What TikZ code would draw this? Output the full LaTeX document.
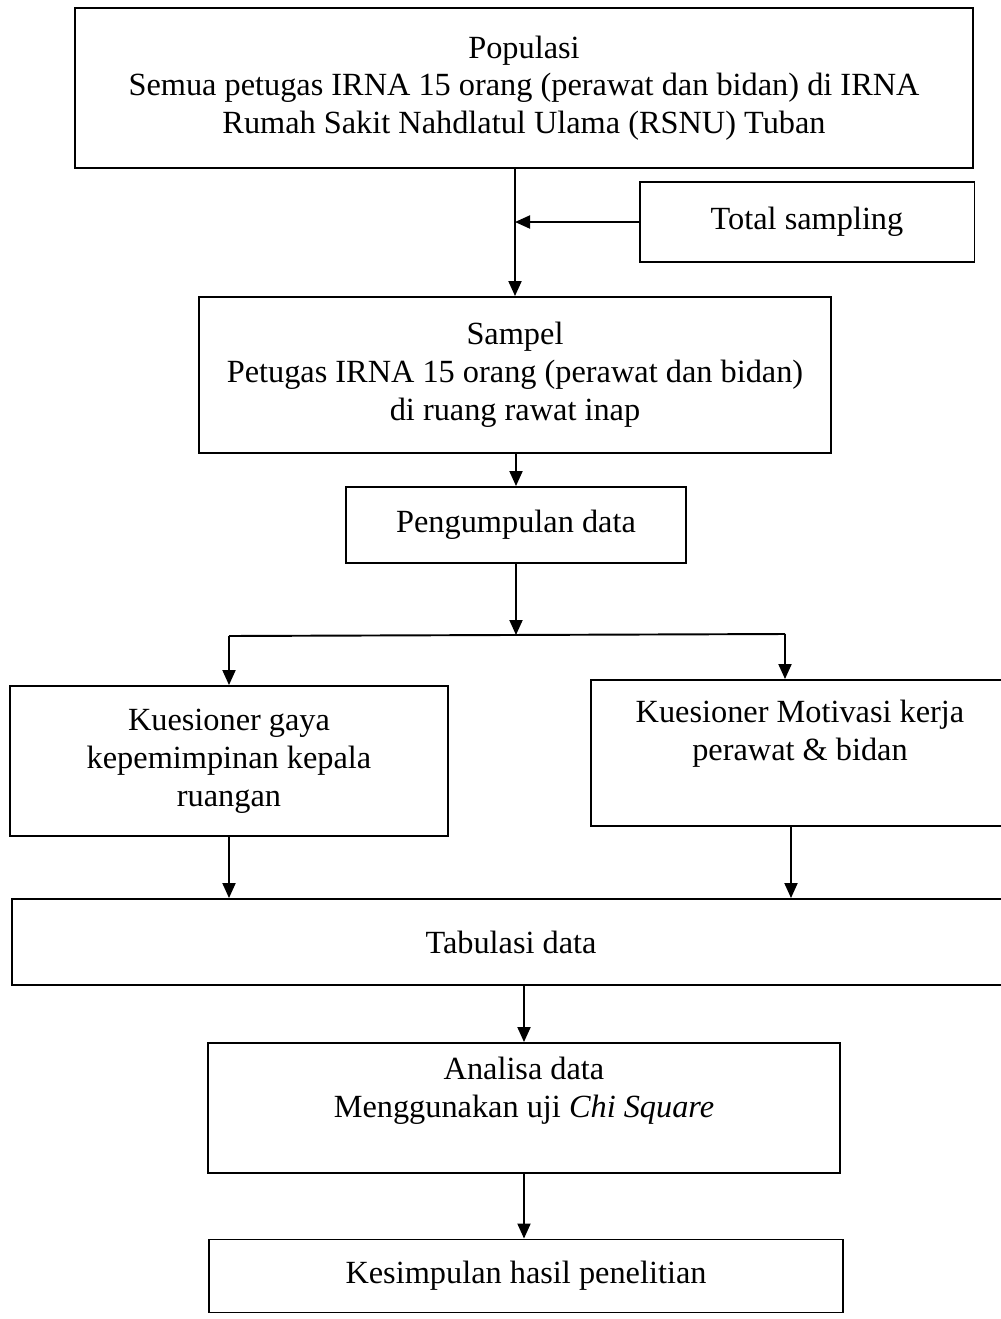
\documentclass[tikz,border=0pt]{standalone}
\usepackage{fontspec}
\setmainfont{Liberation Serif}
\usetikzlibrary{arrows.meta}
\begin{document}
\begin{tikzpicture}
[x=0.02cm, y=-0.02cm,
box/.style={rectangle,draw,line width=1.1pt,align=center,inner sep=0pt,
  font=\fontsize{18.4}{21.5}\selectfont},
arr/.style={line width=1.1pt,-{Triangle[length=0.3cm,width=0.26cm]}},
line/.style={line width=1.1pt}
]
\useasboundingbox (0,0) rectangle (1001,1319);
\clip (0,0) rectangle (1001,1319);
\node[box,minimum width=17.96cm,minimum height=3.2cm] (pop) at (524,88)
  {Populasi\\Semua petugas IRNA 15 orang (perawat dan bidan) di IRNA\\Rumah Sakit Nahdlatul Ulama (RSNU) Tuban};
\node[box,minimum width=6.7cm,minimum height=1.6cm] (total) at (807,222) {Total sampling};
\node[box,minimum width=12.64cm,minimum height=3.12cm] (sampel) at (515,375)
  {Sampel\\Petugas IRNA 15 orang (perawat dan bidan)\\di ruang rawat inap};
\node[box,minimum width=6.8cm,minimum height=1.52cm] (kumpul) at (516,525) {Pengumpulan data};
\node[box,minimum width=8.76cm,minimum height=3cm] (gaya) at (229,761)
  {Kuesioner gaya\\kepemimpinan kepala\\ruangan};
\node[box,minimum width=8.38cm,minimum height=2.92cm] (motiv) at (800,753)
  {Kuesioner Motivasi kerja\\perawat \& bidan\\[4pt]\mbox{}};
\node[box,minimum width=19.96cm,minimum height=1.72cm] (tabul) at (511,942) {Tabulasi data};
\node[box,minimum width=12.64cm,minimum height=2.6cm] (analisa) at (524,1108)
  {Analisa data\\Menggunakan uji \textit{Chi Square}\\[2pt]};
\node[box,minimum width=12.68cm,minimum height=1.46cm] (simpul) at (526,1276) {Kesimpulan hasil penelitian};
% connectors
\coordinate (split) at (516,635);
\coordinate (bl) at (229,636);
\coordinate (br) at (785,634);
\draw[arr] (pop.south -| sampel) -- (sampel.north);
\draw[arr] (total.west) -- (total.west -| sampel.north);
\draw[arr] (sampel.south -| kumpul) -- (kumpul.north);
\draw[arr] (kumpul.south) -- (split);
\draw[line] (bl) -- (br);
\draw[arr] (bl) -- (gaya.north);
\draw[arr] (br) -- (br |- motiv.north);
\draw[arr] (gaya.south) -- (gaya.south |- tabul.north);
\draw[arr] ([xshift=-0.18cm]motiv.south) -- ([xshift=-0.18cm]motiv.south |- tabul.north);
\draw[arr] (tabul.south -| analisa) -- (analisa.north);
\draw[arr] (analisa.south) -- (analisa.south |- simpul.north);
\end{tikzpicture}
\end{document}
